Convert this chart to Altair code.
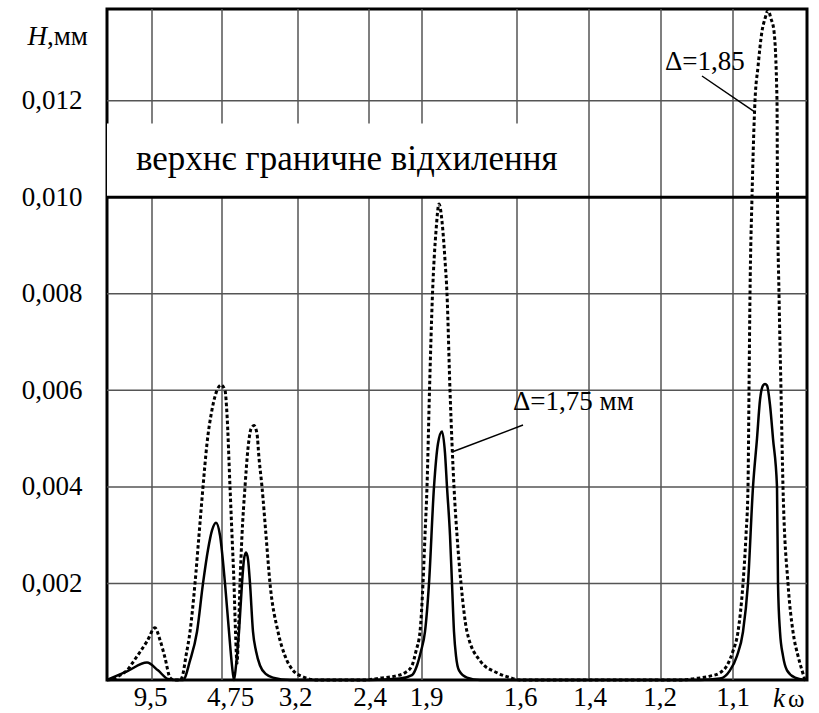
import altair as alt
import pandas as pd

# abscissa position (arbitrary units along the axis, 0..700) and H, mm
solid_s = [0, 20, 40, 51, 61, 68, 76, 83, 90, 96, 101, 105, 109, 113, 118, 122, 125, 127,
           129, 132, 135, 137, 139, 141, 143, 146, 149, 153, 159, 166, 183,
           263, 293, 305, 310, 314, 318, 322, 327, 331, 335, 338, 340, 343, 345, 347, 349, 352, 360, 373,
           593, 613, 623, 630, 636, 641, 646, 650, 653, 656, 658, 660, 663, 666, 670, 671, 673, 676, 680, 688, 698]
solid_h = [0, 0.00018, 0.00036, 0.0002, 0.00002, 0, 0, 0.0004, 0.001, 0.002, 0.0027, 0.0031, 0.00326, 0.003, 0.002, 0.001, 0.0003, 0,
           0.0003, 0.001, 0.002, 0.0025, 0.00264, 0.0025, 0.002, 0.001, 0.0006, 0.0003, 0.00012, 0.00005, 0,
           0, 0.00003, 0.0001, 0.0003, 0.0006, 0.001, 0.002, 0.004, 0.0049, 0.00515, 0.0047, 0.004, 0.003, 0.002, 0.001, 0.0005, 0.0002, 0.00005, 0,
           0, 0.00003, 0.0002, 0.0005, 0.001, 0.002, 0.004, 0.005, 0.0058, 0.0061, 0.00613, 0.0061, 0.0057, 0.005, 0.004, 0.002, 0.001, 0.0005, 0.0002, 0.00005, 0]

dotted_s = [0, 6, 13, 20, 27, 33, 40, 48, 53, 58, 63, 67, 73, 75, 79, 83, 88, 92, 96, 100, 105, 110, 114, 118, 120, 123, 125, 127,
            128.5, 130, 131.5, 133, 135, 138, 141, 144, 147, 150, 152, 155, 159, 163, 171, 178, 186, 198, 210,
            258, 273, 288, 298, 305, 309, 313, 316, 318, 320, 322.5, 325.5, 329, 332, 335, 338, 340, 343, 347, 350, 354, 360, 373, 390, 403, 413,
            573, 588, 603, 613, 620, 626, 631, 636, 639, 641, 642, 643, 645, 648, 651, 655, 658, 661, 664, 667, 670, 670.5,
            672, 674, 676, 681, 686, 691, 695, 698]
dotted_h = [0, 0.00002, 0.0001, 0.0002, 0.0004, 0.00058, 0.0008, 0.00108, 0.00083, 0.00046, 0.00005, 0, 0, 0.00005, 0.0005, 0.001, 0.002, 0.003, 0.004, 0.0049, 0.0056, 0.006, 0.00611, 0.006, 0.0055, 0.004, 0.003, 0.002,
            0.001, 0.00035, 0.001, 0.002, 0.003, 0.004, 0.0048, 0.0052, 0.00527, 0.0051, 0.0046, 0.004, 0.003, 0.002, 0.001, 0.0005, 0.0002, 0.00005, 0,
            0, 0.00004, 0.00008, 0.00015, 0.0003, 0.0006, 0.001, 0.002, 0.003, 0.004, 0.006, 0.008, 0.0093, 0.00986, 0.0095, 0.0087, 0.008, 0.006, 0.004, 0.003, 0.002, 0.001, 0.0004, 0.00015, 0.00005, 0,
            0, 0.00003, 0.00008, 0.00015, 0.0003, 0.0006, 0.001, 0.002, 0.003, 0.004, 0.006, 0.008, 0.010, 0.012, 0.0127, 0.01344, 0.0137, 0.01387, 0.0137, 0.01344, 0.012, 0.010,
            0.008, 0.006, 0.004, 0.002, 0.001, 0.0005, 0.0002, 0]

grid_x = [45, 115, 191, 262, 315, 410, 482, 554, 626]
tick_x = [43, 123, 188, 262.5, 319, 413, 482.5, 552.5, 625.5]
tick_labels = ["9,5", "4,75", "3,2", "2,4", "1,9", "1,6", "1,4", "1,2", "1,1"]
y_ticks = [0.002, 0.004, 0.006, 0.008, 0.010, 0.012]
grid_y = [0.002, 0.004, 0.006, 0.008, 0.012]
limit_h = 0.010
box = {"s0": 0, "s1": 476, "h0": 0.010, "h1": 0.01153}

FONT = "Liberation Serif, Times New Roman, serif"
xs = alt.Scale(domain=[0, 700], nice=False, zero=False)
ys = alt.Scale(domain=[0, 0.0139], nice=False, zero=False)

label_expr = ("[" + ",".join(f"'{l}'" for l in tick_labels) + "][indexof(["
              + ",".join(str(v) for v in tick_x) + "], datum.value)]")

x_axis = alt.Axis(values=tick_x, labelExpr=label_expr, title="",
                  domain=False, ticks=False, grid=False,
                  labelFont=FONT, labelFontSize=27, labelColor="black",
                  labelPadding=4, labelFlush=False, labelOverlap=False)
y_axis = alt.Axis(values=y_ticks, title="",
                  labelExpr="replace(format(datum.value, '.3f'), '.', ',')",
                  domain=False, ticks=False, grid=False,
                  labelFont=FONT, labelFontSize=27, labelColor="black",
                  labelPadding=25, labelFlush=False, labelOverlap=False)


def X(field):
    return alt.X(field, type="quantitative", scale=xs, axis=x_axis)


def Y(field):
    return alt.Y(field, type="quantitative", scale=ys, axis=y_axis)


curves = pd.concat([
    pd.DataFrame({"s": solid_s, "h": solid_h, "series": "Δ=1,75 мм"}),
    pd.DataFrame({"s": dotted_s, "h": dotted_h, "series": "Δ=1,85"}),
])

vgrid = alt.Chart(pd.DataFrame({"s": grid_x})).mark_rule(color="#555555", strokeWidth=1.5).encode(x=X("s"))
hgrid = alt.Chart(pd.DataFrame({"h": grid_y})).mark_rule(color="#555555", strokeWidth=1.5).encode(y=Y("h"))

box_layer = alt.Chart(pd.DataFrame([box])).mark_rect(color="white").encode(
    x=X("s0"), x2="s1:Q", y=Y("h0"), y2="h1:Q")

limit = alt.Chart(pd.DataFrame({"h": [limit_h]})).mark_rule(color="black", strokeWidth=3).encode(y=Y("h"))


def text_layer(df, size, **kw):
    return alt.Chart(df).mark_text(font=FONT, fontSize=size, color="black", baseline="alphabetic",
                                   clip=False, **kw).encode(x=X("s"), y=Y("h"), text="t:N")


box_text = text_layer(pd.DataFrame({"s": [29], "h": [0.010565], "t": ["верхнє граничне відхилення"]}), 35, align="left")
ann = text_layer(pd.DataFrame({"s": [558, 406], "h": [0.012636, 0.005593], "t": ["Δ=1,85", "Δ=1,75 мм"]}), 27, align="left")
h_it = text_layer(pd.DataFrame({"s": [-60], "h": [0.013154], "t": ["H"]}), 27, align="right", fontStyle="italic")
h_un = text_layer(pd.DataFrame({"s": [-60], "h": [0.013154], "t": [",мм"]}), 27, align="left")
k_it = text_layer(pd.DataFrame({"s": [666], "h": [-0.00056], "t": ["k"]}), 27, align="left", fontStyle="italic")
k_om = text_layer(pd.DataFrame({"s": [681], "h": [-0.00056], "t": ["ω"]}), 25, align="left")

leaders = alt.Chart(pd.DataFrame({"s": [595, 416], "s2": [648, 345],
                                  "h": [0.012512, 0.005282], "h2": [0.011766, 0.004723]})).mark_rule(
    color="black", strokeWidth=1.5).encode(x=X("s"), x2="s2:Q", y=Y("h"), y2="h2:Q")

solid = alt.Chart(curves[curves.series == "Δ=1,75 мм"]).mark_line(
    color="black", strokeWidth=2.5, interpolate="monotone").encode(x=X("s"), y=Y("h"))
dotted = alt.Chart(curves[curves.series == "Δ=1,85"]).mark_line(
    color="black", strokeWidth=3, strokeDash=[3.5, 2.5], interpolate="monotone").encode(x=X("s"), y=Y("h"))

chart = alt.layer(vgrid, hgrid, box_layer, limit, box_text, solid, dotted, leaders, ann,
                  h_it, h_un, k_it, k_om).properties(
    width=700, height=671, autosize="none",
    padding={"left": 107, "top": 9, "right": 12, "bottom": 33},
    background="white",
).configure_view(stroke="black", strokeWidth=3)

chart.save("out.html", embed_options={"renderer": "svg", "actions": False})
